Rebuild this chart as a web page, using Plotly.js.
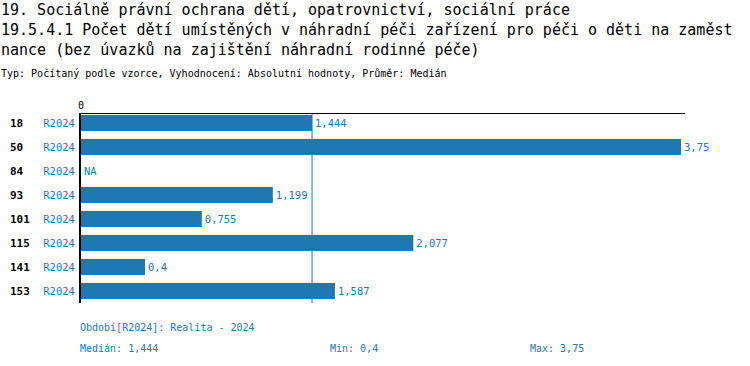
<!DOCTYPE html>
<html><head><meta charset="utf-8">
<script src="https://cdn.plot.ly/plotly-3.0.1.min.js"></script>
<style>body{margin:0;padding:0;background:#fff}#chart{width:750px;height:366px}</style>
</head><body><div id="chart"></div>
<script>
const codes = ["18","50","84","93","101","115","141","153"];
const periods = ["R2024","R2024","R2024","R2024","R2024","R2024","R2024","R2024"];
const values = [1.444, 3.75, null, 1.199, 0.755, 2.077, 0.4, 1.587];
const titleLines = [
  "19. Sociálně právní ochrana dětí, opatrovnictví, sociální práce",
  "19.5.4.1 Počet dětí umístěných v náhradní péči zařízení pro péči o děti na zaměst",
  "nance (bez úvazků na zajištění náhradní rodinné péče)"
];
const subtitle = "Typ: Počítaný podle vzorce, Vyhodnocení: Absolutní hodnoty, Průměr: Medián";
const periodNote = "Období[R2024]: Realita - 2024";

const FONT = "DejaVu Sans Mono, Liberation Mono, monospace";
const BLUE = "#1f77b4";
const fmt = v => String(v).replace('.', ',');

const valid = values.filter(v => v !== null).sort((a,b)=>a-b);
const n = valid.length;
const median = n % 2 ? valid[(n-1)/2] : (valid[n/2-1]+valid[n/2])/2;
const minV = valid[0], maxV = valid[n-1];

const trace = {
  type: 'bar', orientation: 'h',
  y: codes, x: values,
  marker: {color: BLUE},
  width: 0.67,
  text: values.map(v => v === null ? '' : fmt(v)),
  textposition: 'outside',
  cliponaxis: false,
  textfont: {family: FONT, size: 10.5, color: BLUE},
  hoverinfo: 'none'
};

const annotations = [];
titleLines.forEach((t, i) => annotations.push({
  text: t, xref: 'paper', yref: 'paper', x: 0, y: 1, xanchor: 'left', yanchor: 'middle',
  xshift: -82, yshift: 114 - (10 + 20*i), showarrow: false,
  font: {family: FONT, size: 15, color: '#000'}
}));
annotations.push({
  text: subtitle, xref: 'paper', yref: 'paper', x: 0, y: 1, xanchor: 'left', yanchor: 'middle',
  xshift: -82, yshift: 114 - 73, showarrow: false,
  font: {family: FONT, size: 10, color: '#000'}
});
codes.forEach((c, i) => annotations.push({
  text: '<b>' + c + '</b>', xref: 'paper', yref: 'y', x: 0, y: i, xanchor: 'left', yanchor: 'middle',
  xshift: -73, showarrow: false, font: {family: FONT, size: 11, color: '#000'}
}));
values.forEach((v, i) => { if (v === null) annotations.push({
  text: 'NA', xref: 'x', yref: 'y', x: 0, y: i, xanchor: 'left', yanchor: 'middle',
  xshift: 1, showarrow: false, font: {family: FONT, size: 10.5, color: BLUE}
}); });
const bottom = [
  [periodNote, 0, 327], ['Medián: ' + fmt(median), 0, 348],
  ['Min: ' + fmt(minV), 250, 348], ['Max: ' + fmt(maxV), 450, 348]
];
bottom.forEach(b => annotations.push({
  text: b[0], xref: 'paper', yref: 'paper', x: 0, y: 0, xanchor: 'left', yanchor: 'middle',
  xshift: -3 + b[1], yshift: 303 - b[2], showarrow: false,
  font: {family: FONT, size: 10, color: BLUE}
}));

const layout = {
  width: 750, height: 366,
  margin: {l: 81, r: 65, t: 114, b: 63, pad: 0},
  paper_bgcolor: '#fff', plot_bgcolor: '#fff',
  showlegend: false,
  font: {family: FONT, size: 10, color: '#000'},
  xaxis: {
    side: 'top', range: [0, 3.775], tickvals: [0], ticktext: ['0'],
    showgrid: false, zeroline: false, showline: true, linecolor: '#000', linewidth: 1.5,
    ticks: '', tickfont: {family: FONT, size: 10, color: '#000'}, fixedrange: true
  },
  yaxis: {
    type: 'category', categoryorder: 'array', categoryarray: codes,
    range: [7.5, -0.375], tickvals: codes, ticktext: periods,
    tickfont: {family: FONT, size: 10.5, color: BLUE},
    showgrid: false, zeroline: false, showline: true, linecolor: '#000', linewidth: 2,
    ticks: '', ticklabelstandoff: 2
  },
  shapes: [{
    type: 'line', xref: 'x', yref: 'paper', x0: median, x1: median, y0: 0, y1: 1,
    line: {color: BLUE, width: 1}, layer: 'below'
  }],
  annotations: annotations
};
Plotly.newPlot('chart', [trace], layout, {staticPlot: true, displayModeBar: false});
</script></body></html>
